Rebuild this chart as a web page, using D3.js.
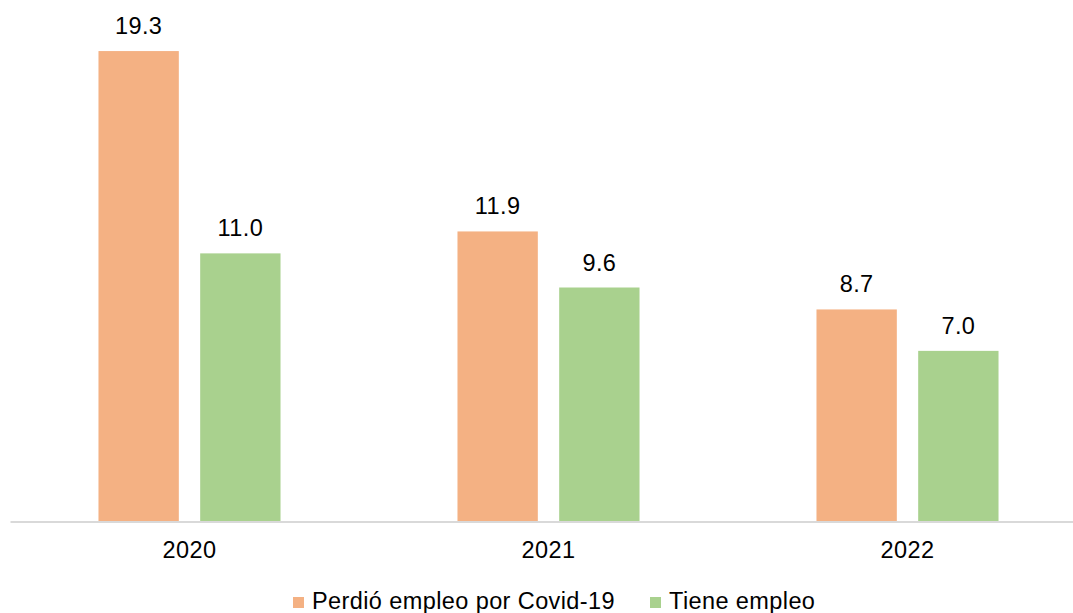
<!DOCTYPE html>
<html>
<head>
<meta charset="utf-8">
<script src="https://cdn.jsdelivr.net/npm/d3@7"></script>
<style>
  html, body { margin: 0; padding: 0; background: #fff; }
  svg { display: block; font-family: "Liberation Sans", Arial, sans-serif; }
  svg text { letter-spacing: 0.4px; }
</style>
</head>
<body>
<svg id="chart" width="1073" height="613"></svg>
<script>
const years = ['2020', '2021', '2022'];
const seriesNames = ['Perdió empleo por Covid-19', 'Tiene empleo'];
const perdio = [19.3, 11.9, 8.7];
const tiene = [11.0, 9.6, 7.0];
const colors = ['#f4b183', '#a9d18e'];

const svg = d3.select('#chart');
const baseY = 521.5;

const x = d3.scaleBand()
  .domain(years)
  .range([10, 1087])
  .padding(0);

const xs = d3.scaleBand()
  .domain(seriesNames)
  .range([0, x.bandwidth()])
  .paddingInner(0.21)
  .paddingOuter(0.87);

const y = d3.scaleLinear()
  .domain([0, 20])
  .range([baseY, 34]);

const data = years.map((yr, i) => ({
  year: yr,
  values: [
    { name: seriesNames[0], value: perdio[i], color: colors[0] },
    { name: seriesNames[1], value: tiene[i], color: colors[1] },
  ],
}));

const groups = svg.selectAll('g.year')
  .data(data)
  .enter().append('g')
  .attr('class', 'year')
  .attr('transform', d => `translate(${x(d.year)},0)`);

groups.selectAll('rect')
  .data(d => d.values)
  .enter().append('rect')
  .attr('x', d => xs(d.name))
  .attr('y', d => y(d.value))
  .attr('width', xs.bandwidth())
  .attr('height', d => y(0) - y(d.value))
  .attr('fill', d => d.color);

groups.selectAll('text.val')
  .data(d => d.values)
  .enter().append('text')
  .attr('class', 'val')
  .attr('x', d => xs(d.name) + xs.bandwidth() / 2)
  .attr('y', d => y(d.value) - 17)
  .attr('text-anchor', 'middle')
  .attr('font-size', '23.5px')
  .attr('fill', '#000')
  .text(d => d.value.toFixed(1));

// x axis
const gx = svg.append('g')
  .attr('transform', `translate(0,${baseY})`)
  .call(d3.axisBottom(x).tickSize(0).tickPadding(20));
gx.select('.domain')
  .attr('stroke', '#d9d9d9')
  .attr('stroke-width', 2);
gx.selectAll('text')
  .attr('font-size', '23.5px')
  .attr('font-family', '"Liberation Sans", Arial, sans-serif')
  .attr('fill', '#000')
  .attr('dy', '0.72em');

// legend
const legend = svg.append('g').attr('transform', 'translate(293,609)');
const legendX = [0, 357];
seriesNames.forEach((name, i) => {
  const lg = legend.append('g').attr('transform', `translate(${legendX[i]},0)`);
  lg.append('rect')
    .attr('x', 0)
    .attr('y', -12)
    .attr('width', 11)
    .attr('height', 11)
    .attr('fill', colors[i]);
  lg.append('text')
    .attr('x', 19)
    .attr('y', 0)
    .attr('font-size', '23.5px')
    .attr('fill', '#000')
    .text(name);
});
</script>
</body>
</html>
